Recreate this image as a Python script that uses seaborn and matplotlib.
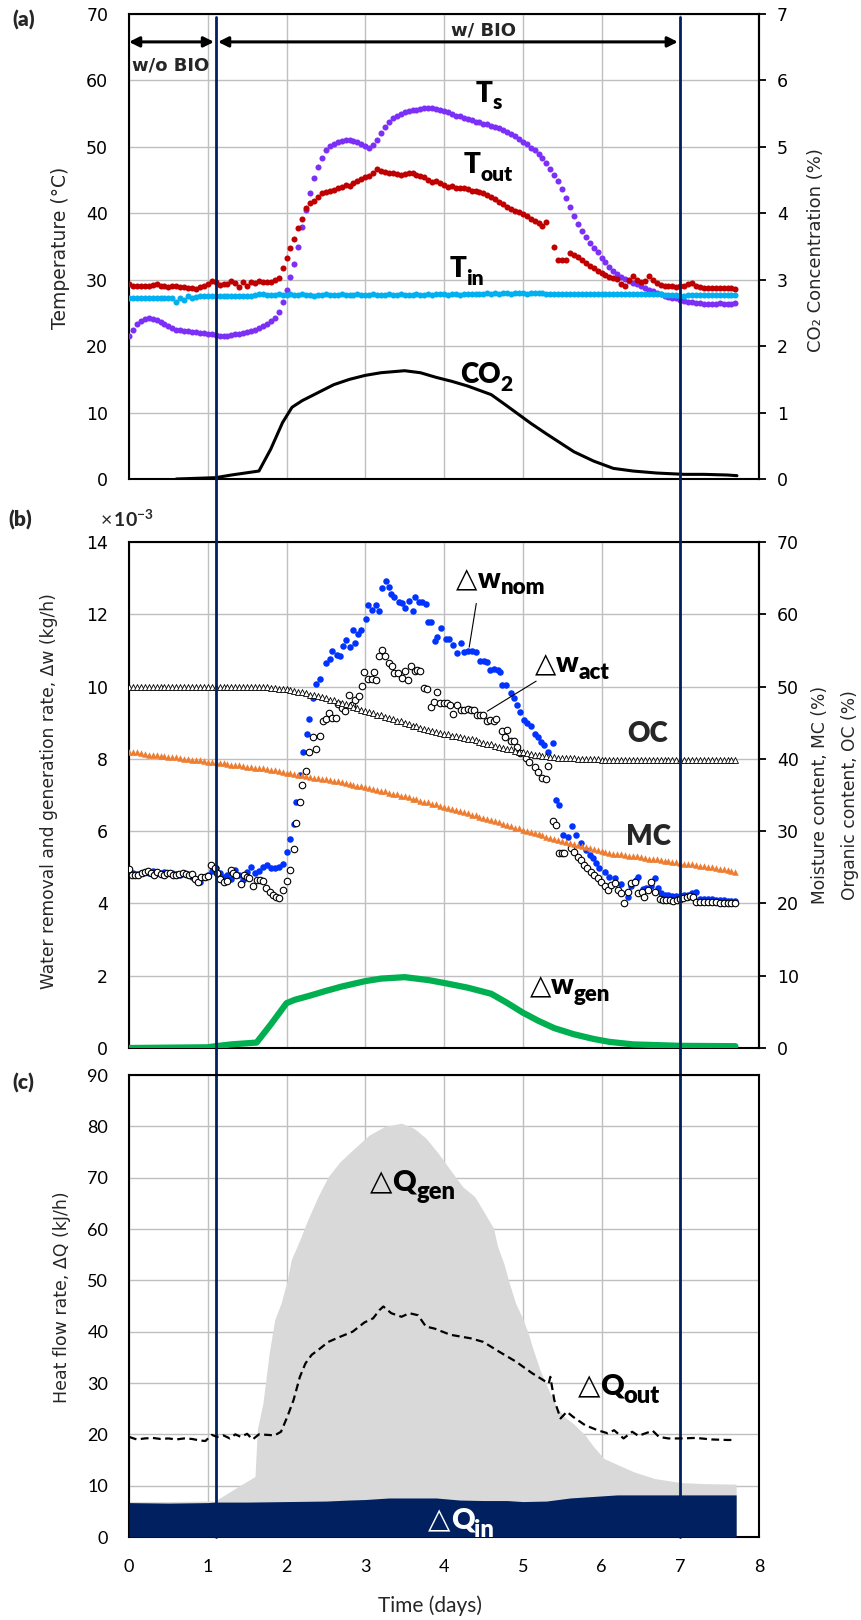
import numpy as np
import matplotlib
matplotlib.use('Agg')
import matplotlib.pyplot as plt
import matplotlib.transforms as mtransforms
from matplotlib import font_manager as fm
from matplotlib.lines import Line2D
import seaborn as sns

sns.set_theme(style='white')
plt.rcParams['font.family'] = ['Lato', 'DejaVu Sans']


def _weights(fam):
    out = set()
    for f in fm.fontManager.ttflist:
        if f.name != fam:
            continue
        w = f.weight
        if isinstance(w, str):
            w = {'bold': 700, 'heavy': 800, 'black': 900, 'extra bold': 800, 'demibold': 600,
                 'semibold': 600}.get(w.lower(), 400)
        out.add(w)
    return out


BOLD = next(f for f in ['Lato', 'Open Sans', 'Noto Sans', 'Roboto', 'Liberation Sans', 'DejaVu Sans']
            if max(_weights(f) or {0}) >= 700)
# heaviest available weight up to 'heavy' for the chart's big labels
_w = sorted(w for w in _weights(BOLD) if 700 <= w <= 900)
HEAVY = _w[-1] if _w else 'bold'
if HEAVY == 900 and 800 in _w:
    HEAVY = 800

plt.rcParams['mathtext.fontset'] = 'custom'
plt.rcParams['mathtext.rm'] = 'Lato'
plt.rcParams['mathtext.bf'] = BOLD + ':weight=bold'
plt.rcParams['mathtext.it'] = 'Lato:italic'
plt.rcParams['mathtext.fallback'] = 'stixsans'

# ---------------- data ----------------
# sampling grid (days) for the dense series: 0.00, 0.05, ... 7.70
t_grid = np.round(np.arange(155) * 0.05, 2)

ts = [21.5, 22.5, 23.3, 23.8, 24.1, 24.2, 24.1, 23.9, 23.6, 23.3, 23.0, 22.7, 22.5, 22.4, 22.3, 22.3, 22.2, 22.1, 22.0, 22.0,
      21.9, 21.8, 21.7, 21.6, 21.6, 21.5, 21.7, 21.8, 21.9, 22.0, 22.2, 22.3, 22.5, 22.8, 23.0, 23.4, 23.8, 24.3, 25.2, 26.6,
      28.4, 30.4, 32.4, 35.0, 37.9, 40.5, 43.0, 45.3, 47.0, 48.3, 49.5, 50.2, 50.5, 50.7, 50.9, 51.0, 51.0, 50.9, 50.8, 50.5,
      50.1, 49.9, 50.3, 51.1, 52.1, 53.0, 53.8, 54.3, 54.7, 55.0, 55.2, 55.4, 55.5, 55.6, 55.7, 55.8, 55.8, 55.8, 55.7, 55.6,
      55.4, 55.2, 54.9, 54.7, 54.6, 54.4, 54.2, 54.0, 53.8, 53.7, 53.5, 53.4, 53.2, 53.0, 52.8, 52.5, 52.3, 52.0, 51.6, 51.2,
      50.8, 50.4, 49.9, 49.5, 48.9, 48.3, 47.6, 46.7, 45.8, 44.9, 43.7, 42.3, 41.0, 39.6, 38.4, 37.3, 36.4, 35.5, 34.8, 34.1,
      33.3, 32.6, 31.9, 31.3, 30.8, 30.4, 30.1, 29.8, 29.5, 29.3, 29.0, 28.7, 28.5, 28.3, 28.0, 27.8, 27.6, 27.4, 27.3, 27.2,
      27.0, 26.8, 26.7, 26.6, 26.5, 26.5, 26.4, 26.4, 26.4, 26.4, 26.5, 26.4, 26.4, 26.4, 26.5]

t_out = [29.3, 29.0, 29.0, 29.1, 29.1, 29.0, 29.2, 29.3, 29.0, 29.1, 28.9, 29.0, 29.0, 28.9, 28.9, 28.7, 28.8, 28.6, 28.9, 29.0,
         29.4, 29.8, 29.6, 29.2, 29.4, 29.3, 29.8, 29.5, 28.9, 29.6, 29.1, 29.7, 29.5, 29.8, 29.6, 29.6, 29.7, 29.9, 30.3, 31.8,
         33.2, 34.8, 36.2, 37.8, 39.2, 40.8, 41.6, 41.9, 42.5, 43.0, 43.2, 43.3, 43.5, 43.8, 44.0, 44.2, 44.1, 44.6, 44.9, 45.2,
         45.4, 45.6, 46.0, 46.6, 46.4, 46.2, 46.0, 46.1, 45.9, 45.8, 45.9, 46.0, 46.0, 45.7, 45.6, 45.4, 45.0, 44.7, 44.8, 44.5,
         44.3, 44.0, 44.1, 43.8, 43.8, 43.8, 43.6, 43.4, 43.4, 43.2, 43.0, 42.8, 42.4, 42.1, 41.7, 41.4, 41.0, 40.7, 40.4, 40.2,
         39.9, 39.6, 39.2, 38.9, 38.5, 38.1, 38.7, np.nan, 34.9, 33.0, 33.0, 33.0, 34.0, 33.7, 33.4, 33.0, 32.5, 32.1, 31.7, 31.3,
         31.0, 30.7, 30.4, 30.3, 30.1, 29.4, 29.0, 29.9, 30.6, 30.0, 29.6, 29.8, 30.6, 29.9, 29.5, 29.2, 29.1, 29.0, 29.0, 28.9,
         29.0, 29.1, 29.4, 29.5, 29.0, 28.9, 28.8, 28.8, 28.8, 28.7, 28.7, 28.7, 28.7, 28.7, 28.6]

t_in = [27.3, 27.3, 27.2, 27.3, 27.3, 27.2, 27.3, 27.3, 27.2, 27.3, 27.2, 27.3, 26.6, 27.3, 27.0, 27.5, 27.3, 27.4, 27.5, 27.6,
        27.5, 27.6, 27.5, 27.6, 27.6, 27.5, 27.6, 27.6, 27.5, 27.6, 27.6, 27.6, 27.7, 27.8, 27.8, 27.7, 27.7, 27.7, 27.8, 27.7,
        27.7, 27.8, 27.7, 27.7, 27.8, 27.7, 27.7, 27.6, 27.7, 27.7, 27.8, 27.7, 27.7, 27.7, 27.8, 27.7, 27.7, 27.7, 27.8, 27.7,
        27.7, 27.7, 27.8, 27.7, 27.7, 27.7, 27.8, 27.7, 27.7, 27.8, 27.7, 27.7, 27.7, 27.8, 27.7, 27.7, 27.8, 27.7, 27.8, 27.8,
        27.8, 27.7, 27.8, 27.8, 27.7, 27.8, 27.8, 27.9, 27.8, 27.9, 27.9, 28.0, 27.9, 28.0, 27.9, 28.0, 28.0, 27.9, 28.0, 28.0,
        28.0, 27.9, 28.0, 28.0, 28.0, 28.0, 27.9, 27.9, 27.8, 27.8, 27.9, 27.8, 27.8, 27.9, 27.8, 27.8, 27.8, 27.9, 27.8, 27.8,
        27.8, 27.9, 27.8, 27.8, 27.8, 27.8, 27.8, 27.8, 27.8, 27.8, 27.8, 27.9, 27.8, 27.8, 27.8, 27.8, 27.7, 27.7, 27.7, 27.7,
        27.6, 27.6, 27.7, 27.7, 27.7, 27.7, 27.7, 27.7, 27.7, 27.7, 27.7, 27.7, 27.7, 27.7, 27.7]

co2_day = [0.6, 1.1, 1.3, 1.65, 1.8, 1.95, 2.07, 2.2, 2.4, 2.6, 2.8, 3.0, 3.2, 3.5, 3.7, 3.9, 4.1, 4.3, 4.6,
           4.8, 5.1, 5.3, 5.65, 5.9, 6.15, 6.4, 6.7, 7.05, 7.3, 7.6, 7.72]
co2_pct = [0.0, 0.02, 0.06, 0.12, 0.45, 0.85, 1.08, 1.18, 1.3, 1.42, 1.5, 1.56, 1.6, 1.63, 1.6, 1.53, 1.47, 1.4, 1.27,
           1.1, 0.84, 0.68, 0.41, 0.27, 0.16, 0.12, 0.09, 0.07, 0.07, 0.06, 0.05]

wnom_day = [0.00, 0.05, 0.10, 0.15, 0.20, 0.25, 0.30, 0.35, 0.40, 0.45, 0.50, 0.55, 0.60, 0.65, 0.70, 0.75, 0.80, 0.85,
            0.90, 0.95, 1.00, 1.05, 1.10, 1.15, 1.20, 1.25, 1.30, 1.35, 1.40, 1.45, 1.50, 1.55, 1.60, 1.65, 1.70, 1.75,
            1.80, 1.85, 1.90, 1.95, 2.00, 2.04, 2.09, 2.12, 2.17, 2.21, 2.26, 2.29, 2.34, 2.38, 2.42, 2.50, 2.55, 2.58,
            2.64, 2.68, 2.72, 2.75, 2.80, 2.85, 2.87, 2.91, 2.95, 3.01, 3.04, 3.09, 3.14, 3.17, 3.21, 3.26, 3.30, 3.33,
            3.37, 3.43, 3.47, 3.50, 3.55, 3.60, 3.63, 3.68, 3.72, 3.77, 3.80, 3.83, 3.89, 3.91, 3.96, 4.02, 4.06, 4.12,
            4.17, 4.21, 4.25, 4.30, 4.35, 4.40, 4.46, 4.51, 4.55, 4.59, 4.64, 4.68, 4.71, 4.74, 4.79, 4.85, 4.89, 4.93,
            4.97, 5.02, 5.06, 5.10, 5.15, 5.19, 5.23, 5.27, 5.32, 5.39, 5.42, 5.46, 5.51, 5.57, 5.63, 5.68, 5.74, 5.80,
            5.85, 5.89, 5.93, 5.97, 6.04, 6.10, 6.17, 6.25, 6.34, 6.38, 6.44, 6.46, 6.53, 6.57, 6.63, 6.68, 6.72, 6.76,
            6.81, 6.85, 6.90, 6.95, 7.00, 7.05, 7.10, 7.15, 7.20, 7.25, 7.30, 7.35, 7.40, 7.45, 7.50, 7.55, 7.60, 7.65, 7.70]
wnom_val = [4.93, 4.85, 4.82, 4.85, 4.88, 4.85, 4.90, 4.84, 4.83, 4.86, 4.85, 4.84, 4.82, 4.80, 4.84, 4.78, 4.72, 4.65,
            4.60, 4.72, 4.80, 4.90, 4.97, 4.85, 4.72, 4.78, 4.67, 4.92, 4.80, 4.66, 4.88, 5.00, 4.83, 4.90, 5.00, 5.06,
            4.98, 4.97, 5.02, 5.09, 5.41, 5.78, 6.19, 6.80, 7.55, 8.18, 8.70, 9.09, 9.67, 10.08, 10.20, 10.64, 10.75, 10.99,
            10.87, 10.85, 11.11, 11.30, 11.10, 11.56, 11.20, 11.45, 11.56, 11.87, 12.27, 12.13, 12.27, 12.10, 12.73, 12.92, 12.75, 12.57,
            12.48, 12.33, 12.32, 12.17, 12.36, 12.08, 12.48, 12.33, 12.33, 12.28, 11.80, 11.78, 11.26, 11.37, 11.63, 11.31, 11.31, 11.14,
            10.94, 11.20, 10.96, 10.98, 10.98, 10.96, 10.70, 10.72, 10.68, 10.47, 10.50, 10.45, 10.39, 10.03, 10.05, 9.82, 9.67, 9.48,
            9.30, 9.07, 8.98, 8.90, 8.70, 8.61, 8.47, 8.38, 8.20, 8.44, 6.86, 6.71, 5.89, 5.85, 6.15, 5.89, 5.66, 5.48,
            5.34, 5.25, 5.11, 4.97, 4.88, 4.72, 4.71, 4.53, 4.17, 4.47, 4.65, 4.72, 4.39, 4.42, 4.47, 4.69, 4.42, 4.30,
            4.24, 4.22, 4.20, 4.21, 4.20, 4.22, 4.24, 4.28, 4.31, 4.12, 4.12, 4.12, 4.11, 4.10, 4.10, 4.09, 4.08, 4.07, 4.07]

wact_day = [0.00, 0.04, 0.08, 0.12, 0.16, 0.20, 0.24, 0.28, 0.32, 0.36, 0.40, 0.44, 0.48, 0.52, 0.56, 0.60, 0.64, 0.68,
            0.72, 0.76, 0.80, 0.84, 0.88, 0.92, 0.96, 1.00, 1.04, 1.09, 1.12, 1.16, 1.21, 1.25, 1.29, 1.32, 1.36, 1.42,
            1.46, 1.50, 1.53, 1.57, 1.62, 1.66, 1.70, 1.74, 1.79, 1.83, 1.87, 1.91, 1.96, 2.00, 2.04, 2.09, 2.12, 2.17,
            2.20, 2.25, 2.29, 2.34, 2.37, 2.42, 2.46, 2.50, 2.54, 2.58, 2.63, 2.66, 2.70, 2.74, 2.79, 2.83, 2.87, 2.92,
            2.96, 2.99, 3.04, 3.09, 3.11, 3.14, 3.17, 3.21, 3.25, 3.30, 3.34, 3.37, 3.42, 3.47, 3.50, 3.54, 3.58, 3.63,
            3.66, 3.70, 3.74, 3.79, 3.83, 3.87, 3.91, 3.95, 4.00, 4.04, 4.08, 4.12, 4.17, 4.21, 4.25, 4.30, 4.34, 4.38,
            4.42, 4.46, 4.49, 4.55, 4.59, 4.63, 4.66, 4.74, 4.78, 4.80, 4.85, 4.89, 4.93, 4.97, 5.04, 5.08, 5.15, 5.19,
            5.25, 5.29, 5.32, 5.38, 5.42, 5.46, 5.50, 5.53, 5.61, 5.65, 5.70, 5.74, 5.78, 5.82, 5.87, 5.91, 5.95, 5.99,
            6.04, 6.08, 6.12, 6.17, 6.21, 6.25, 6.29, 6.34, 6.38, 6.42, 6.46, 6.51, 6.54, 6.59, 6.63, 6.68, 6.74, 6.78,
            6.82, 6.87, 6.91, 6.96, 7.00, 7.04, 7.08, 7.12, 7.16, 7.20, 7.25, 7.30, 7.35, 7.40, 7.45, 7.50, 7.55, 7.60, 7.65, 7.70]
wact_val = [4.95, 4.78, 4.80, 4.78, 4.83, 4.86, 4.90, 4.83, 4.80, 4.87, 4.82, 4.80, 4.83, 4.84, 4.80, 4.80, 4.82, 4.83,
            4.82, 4.80, 4.81, 4.67, 4.58, 4.72, 4.74, 4.76, 5.06, 4.97, 4.85, 4.67, 4.58, 4.62, 4.93, 4.85, 4.78, 4.54,
            4.79, 4.72, 4.70, 4.49, 4.65, 4.65, 4.63, 4.42, 4.33, 4.22, 4.17, 4.15, 4.37, 4.63, 4.93, 5.51, 6.23, 6.81,
            7.29, 7.67, 8.20, 8.60, 8.27, 8.62, 9.05, 9.10, 9.28, 9.14, 9.14, 9.53, 9.40, 9.33, 9.76, 9.50, 9.62, 9.74,
            10.02, 10.40, 10.22, 10.22, 10.39, 10.17, 10.84, 11.00, 10.84, 10.66, 10.56, 10.38, 10.38, 10.24, 10.42, 10.17, 10.57, 10.42,
            10.45, 10.42, 9.96, 9.92, 9.44, 9.56, 9.85, 9.55, 9.55, 9.55, 9.50, 9.25, 9.50, 9.36, 9.36, 9.37, 9.35, 9.36,
            9.20, 9.22, 9.20, 9.05, 9.07, 9.05, 9.10, 8.77, 8.60, 8.80, 8.50, 8.50, 8.33, 8.15, 8.01, 7.92, 7.78, 7.64,
            7.48, 7.44, 7.80, 6.28, 6.17, 5.39, 5.39, 5.39, 5.52, 5.43, 5.29, 5.20, 5.06, 4.97, 4.88, 4.79, 4.70, 4.60,
            4.47, 4.37, 4.51, 4.56, 4.37, 4.28, 4.02, 4.33, 4.56, 4.60, 4.28, 4.33, 4.17, 4.37, 4.60, 4.33, 4.12, 4.10,
            4.10, 4.10, 4.08, 4.10, 4.12, 4.15, 4.19, 4.20, 4.19, 4.05, 4.04, 4.03, 4.04, 4.03, 4.03, 4.02, 4.02, 4.00, 4.00, 4.02]

oc_pct = [50.0] * 20 + \
    [50.0] * 14 + [49.95, 49.9, 49.85, 49.8, 49.7, 49.65] + \
    [49.6, 49.5, 49.4, 49.3, 49.2, 49.1, 48.9, 48.8, 48.7, 48.5, 48.4, 48.2, 48.1, 47.9, 47.7, 47.6, 47.4, 47.2, 47.0, 46.8] + \
    [46.6, 46.5, 46.3, 46.1, 46.0, 45.8, 45.6, 45.5, 45.3, 45.2, 45.0, 44.8, 44.6, 44.5, 44.3, 44.1, 44.0, 43.8, 43.7, 43.6] + \
    [43.5, 43.4, 43.2, 43.1, 43.0, 42.9, 42.8, 42.7, 42.6, 42.4, 42.2, 42.1, 42.0, 41.8, 41.7, 41.5, 41.4, 41.3, 41.1, 41.0] + \
    [40.9, 40.8, 40.7, 40.6, 40.5, 40.4, 40.35, 40.3, 40.2, 40.15, 40.1, 40.1, 40.05, 40.05, 40.0, 40.0, 40.0, 40.0, 40.0, 40.0] + \
    [39.9] * 20 + [39.9] * 15

mc_pct = [41.0, 40.9, 40.9, 40.8, 40.7, 40.6, 40.6, 40.5, 40.4, 40.4, 40.3, 40.2, 40.2, 40.1, 40.0, 40.0, 39.9, 39.8, 39.8, 39.7,
          39.6, 39.6, 39.5, 39.4, 39.4, 39.3, 39.2, 39.2, 39.1, 39.0, 38.9, 38.9, 38.8, 38.7, 38.7, 38.6, 38.5, 38.4, 38.3, 38.2,
          38.1, 38.0, 37.9, 37.8, 37.7, 37.6, 37.5, 37.4, 37.3, 37.2, 37.2, 37.1, 37.0, 36.9, 36.8, 36.7, 36.5, 36.4, 36.3, 36.2,
          36.1, 36.0, 35.8, 35.7, 35.6, 35.5, 35.3, 35.2, 35.1, 34.9, 34.8, 34.7, 34.5, 34.4, 34.2, 34.1, 34.0, 33.8, 33.7, 33.5,
          33.4, 33.2, 33.1, 32.9, 32.8, 32.6, 32.5, 32.3, 32.2, 32.0, 31.8, 31.7, 31.5, 31.4, 31.2, 31.0, 30.9, 30.7, 30.5, 30.4,
          30.2, 30.0, 29.9, 29.7, 29.6, 29.4, 29.2, 29.0, 28.9, 28.8, 28.6, 28.5, 28.4, 28.2, 28.1, 28.0, 27.8, 27.7, 27.5, 27.4,
          27.2, 27.1, 27.0, 26.9, 26.9, 26.8, 26.7, 26.6, 26.5, 26.5, 26.4, 26.3, 26.2, 26.2, 26.1, 26.0, 25.9, 25.9, 25.8, 25.7,
          25.6, 25.5, 25.5, 25.4, 25.3, 25.2, 25.2, 25.1, 25.0, 24.9, 24.8, 24.7, 24.6, 24.5, 24.4]

wgen_day = [0.0, 1.0, 1.1, 1.3, 1.62, 1.8, 2.0, 2.1, 2.3, 2.5, 2.7, 3.0, 3.2, 3.5, 3.8, 4.0, 4.3, 4.6, 4.8, 5.0,
            5.2, 5.4, 5.65, 5.9, 6.1, 6.4, 7.0, 7.7]
wgen_val = [0.0, 0.02, 0.05, 0.1, 0.15, 0.65, 1.24, 1.33, 1.45, 1.58, 1.7, 1.85, 1.92, 1.96, 1.88, 1.8, 1.67, 1.5, 1.25, 0.98,
            0.75, 0.55, 0.38, 0.25, 0.17, 0.1, 0.06, 0.05]

qgen_day = [0.0, 0.5, 1.0, 1.09, 1.3, 1.6, 1.63, 1.7, 1.78, 1.85, 1.93, 2.01, 2.06, 2.17, 2.27, 2.4, 2.53, 2.68, 2.84, 3.05,
            3.25, 3.46, 3.62, 3.77, 3.93, 4.08, 4.24, 4.39, 4.52, 4.63, 4.68, 4.76, 4.83, 4.91, 4.99, 5.07, 5.12, 5.22, 5.33, 5.43,
            5.53, 5.64, 5.79, 5.9, 6.03, 6.16, 6.41, 6.67, 7.01, 7.3, 7.71]
qgen_val = [6.9, 6.9, 7.0, 7.0, 9.0, 11.8, 21.0, 26.0, 35.8, 42.3, 45.5, 50.0, 54.0, 57.9, 61.8, 66.3, 70.2, 73.1, 75.4, 78.3,
            80.0, 80.6, 79.6, 77.7, 74.7, 71.5, 68.2, 66.3, 63.0, 60.1, 56.6, 53.3, 49.4, 45.5, 42.9, 39.7, 37.1, 32.5, 28.6, 25.4,
            23.4, 22.1, 19.9, 17.6, 15.3, 14.4, 12.7, 11.4, 10.6, 10.4, 10.3]

qin_day = [0.0, 0.5, 1.0, 1.1, 1.5, 2.0, 2.5, 2.8, 3.0, 3.3, 3.6, 3.9, 4.2, 4.5, 4.8, 5.0, 5.3, 5.6, 5.9, 6.2,
           6.6, 7.0, 7.4, 7.71]
qin_val = [6.7, 6.6, 6.7, 6.8, 6.8, 6.9, 7.0, 7.2, 7.3, 7.6, 7.6, 7.6, 7.2, 7.1, 7.1, 6.9, 7.0, 7.6, 7.9, 8.2,
           8.2, 8.2, 8.2, 8.2]

qout_day = [0.0, 0.1, 0.2, 0.3, 0.4, 0.5, 0.6, 0.7, 0.8, 0.9, 0.97, 1.05, 1.12, 1.2, 1.28, 1.35, 1.42, 1.5, 1.57, 1.65,
            1.75, 1.85, 1.93, 2.01, 2.09, 2.17, 2.24, 2.32, 2.4, 2.53, 2.68, 2.84, 2.99, 3.1, 3.18, 3.23, 3.33, 3.46, 3.56, 3.67,
            3.77, 3.88, 4.08, 4.34, 4.5, 4.7, 4.91, 5.12, 5.33, 5.35, 5.4, 5.48, 5.56, 5.64, 5.79, 5.95, 6.08, 6.16, 6.28, 6.39,
            6.47, 6.54, 6.65, 6.73, 6.85, 7.0, 7.2, 7.4, 7.6, 7.7]
qout_val = [19.5, 19.0, 19.2, 19.3, 19.1, 19.2, 19.0, 19.2, 19.1, 18.8, 18.7, 19.9, 19.5, 19.8, 19.2, 20.0, 19.5, 20.1, 19.0, 20.0,
            19.9, 19.8, 20.5, 23.4, 26.7, 31.2, 33.8, 35.5, 36.4, 38.0, 39.0, 40.0, 41.8, 42.6, 44.2, 44.9, 43.6, 42.9, 43.6, 43.2,
            41.0, 40.6, 39.4, 38.7, 38.0, 36.1, 34.2, 31.9, 29.9, 31.2, 26.7, 23.1, 24.4, 23.4, 21.8, 20.8, 20.2, 20.8, 19.2, 20.5,
            19.7, 20.1, 20.7, 19.5, 19.2, 19.2, 19.3, 19.0, 18.9, 18.9]

bio_switch = [1.1, 7.0]

# ---------------- figure ----------------
W, H = 861, 1620
fig = plt.figure(figsize=(W / 100, H / 100), dpi=100)
L, AW = 129 / W, 630 / W
ax_a = fig.add_axes([L, 1 - 479 / H, AW, 465 / H])
ax_a2 = ax_a.twinx()
ax_b = fig.add_axes([L, 1 - 1048 / H, AW, 506 / H])
ax_b2 = ax_b.twinx()
ax_c = fig.add_axes([L, 1 - 1537 / H, AW, 462 / H])

GRID = '#BFBFBF'
TICKFONT = 'DejaVu Sans'


def style_main(ax, ymax, ystep, xlabels=False, tickfont=TICKFONT, tsize=12.5):
    ax.set_xlim(0, 8)
    ax.set_ylim(0, ymax)
    ax.set_xticks(range(9))
    ax.set_yticks(np.arange(0, ymax + 0.001, ystep))
    ax.grid(True, color=GRID, lw=1.0)
    ax.set_axisbelow(True)
    for s in ax.spines.values():
        s.set_visible(True)
        s.set_color('black')
        s.set_linewidth(1.5)
    ax.tick_params(axis='y', left=False, length=0, pad=15, labelsize=tsize, labelfontfamily=tickfont,
                   labelcolor='black')
    if xlabels:
        ax.tick_params(axis='x', bottom=False, length=0, pad=16, labelsize=tsize, labelfontfamily=tickfont,
                       labelcolor='black')
    else:
        ax.tick_params(axis='x', bottom=False, length=0, labelbottom=False)
    ax.set_xlabel('')
    ax.set_ylabel('')


def style_twin(ax, ymax, ystep):
    ax.set_ylim(0, ymax)
    ax.set_yticks(np.arange(0, ymax + 0.001, ystep))
    ax.grid(False)
    for k, s in ax.spines.items():
        s.set_visible(k == 'right')
    ax.spines['right'].set_color('black')
    ax.spines['right'].set_linewidth(1.5)
    ax.tick_params(axis='y', right=True, direction='out', length=5, width=1.3, color='black',
                   pad=8, labelsize=12.5, labelfontfamily=TICKFONT, labelcolor='black')
    ax.set_ylabel('')
    ax.set_xlabel('')


renderer = fig.canvas.get_renderer()


def composite(ax, x, y, parts, color='black', zorder=6):
    """Draw a label made of pieces (text, size, weight, family, dy_pt) centred at data x, baseline y."""
    widths = []
    for s, size, weight, family, dy in parts:
        t = fig.text(0, 0, s, fontsize=size, fontweight=weight, family=family)
        widths.append(t.get_window_extent(renderer=renderer).width * 72 / fig.dpi)
        t.remove()
    x0 = -sum(widths) / 2
    for (s, size, weight, family, dy), w in zip(parts, widths):
        ax.annotate(s, xy=(x, y), xycoords='data', xytext=(x0, dy), textcoords='offset points',
                    ha='left', va='baseline', fontsize=size, fontweight=weight, family=family,
                    color=color, zorder=zorder, annotation_clip=False)
        x0 += w


def sub(main, subs, size=20, ssize=15, dy=-5.5, tri=False):
    parts = []
    if tri:
        parts.append(('\u25B3', size, 'normal', 'DejaVu Sans', 0))
    parts.append((main, size, HEAVY, BOLD, 0))
    parts.append((subs, ssize, HEAVY, BOLD, dy))
    return parts


# ---------- panel (a) ----------
sns.scatterplot(x=t_grid, y=ts, ax=ax_a, color='#7B2FF7', s=19, linewidth=0, zorder=3)
sns.scatterplot(x=t_grid, y=t_out, ax=ax_a, color='#C00000', s=19, linewidth=0, zorder=3)
sns.scatterplot(x=t_grid, y=t_in, ax=ax_a, color='#00B0F0', s=19, linewidth=0, zorder=3)
sns.lineplot(x=co2_day, y=co2_pct, ax=ax_a2, color='black', lw=2.2, sort=False, estimator=None)
style_main(ax_a, 70, 10)
style_twin(ax_a2, 7, 1)

ax_a.annotate('', xy=(0.0, 65.8), xytext=(1.08, 65.8),
              arrowprops=dict(arrowstyle='<|-|>', color='black', lw=2.2, mutation_scale=15,
                              shrinkA=0, shrinkB=0))
ax_a.annotate('', xy=(1.13, 65.8), xytext=(6.97, 65.8),
              arrowprops=dict(arrowstyle='<|-|>', color='black', lw=2.2, mutation_scale=15,
                              shrinkA=0, shrinkB=0))
ax_a.text(0.04, 62.3, 'w/o BIO', ha='left', va='center', fontsize=13, fontweight='bold', family='DejaVu Sans')
ax_a.text(4.5, 67.5, 'w/ BIO', ha='center', va='center', fontsize=13, fontweight='bold', family='DejaVu Sans')
composite(ax_a, 4.57, 56.8, sub('T', 's'))
composite(ax_a, 4.56, 46.0, sub('T', 'out'))
composite(ax_a, 4.29, 30.4, sub('T', 'in'))
composite(ax_a, 4.54, 14.4, sub('CO', '2'))

# ---------- panel (b) ----------
sns.scatterplot(x=wnom_day, y=wnom_val, ax=ax_b, color='#0033FF', s=22, linewidth=0, zorder=3)
sns.scatterplot(x=wact_day, y=wact_val, ax=ax_b, color='white', edgecolor='black', s=22, linewidth=0.8, zorder=4)
sns.lineplot(x=wgen_day, y=wgen_val, ax=ax_b, color='#00B050', lw=4.5, sort=False, estimator=None, zorder=3)
sns.scatterplot(x=t_grid, y=mc_pct, ax=ax_b2, color='#ED7D31', marker='^', s=22, linewidth=0, zorder=3)
sns.scatterplot(x=t_grid, y=oc_pct, ax=ax_b2, color='white', edgecolor='black', marker='^', s=18,
                linewidth=0.6, zorder=3)
style_main(ax_b, 14, 2)
style_twin(ax_b2, 70, 10)

composite(ax_b, 4.72, 12.74, sub('w', 'nom', size=20, ssize=16, dy=-5, tri=True))
composite(ax_b, 5.63, 10.40, sub('w', 'act', size=20, ssize=16, dy=-5, tri=True))
composite(ax_b, 5.60, 1.49, sub('w', 'gen', size=20, ssize=16, dy=-5, tri=True))
ax_b.text(6.58, 8.7, 'OC', ha='center', va='center', fontsize=20, fontweight=HEAVY, family=BOLD)
ax_b.text(6.6, 5.83, 'MC', ha='center', va='center', fontsize=20, fontweight=HEAVY, family=BOLD)
ax_b.annotate('', xy=(4.32, 11.09), xytext=(4.41, 12.3),
              arrowprops=dict(arrowstyle='-', color='black', lw=0.8, shrinkA=0, shrinkB=0))
ax_b.annotate('', xy=(4.55, 9.32), xytext=(5.17, 10.15),
              arrowprops=dict(arrowstyle='-', color='black', lw=0.8, shrinkA=0, shrinkB=0))

# ---------- panel (c) ----------
ax_c.fill_between(qgen_day, qgen_val, 0, color='#D9D9D9', lw=0, zorder=1)
ax_c.fill_between(qin_day, qin_val, 0, color='#002060', lw=0, zorder=3)
sns.lineplot(x=qout_day, y=qout_val, ax=ax_c, color='black', lw=1.6, linestyle=(0, (3.5, 2)),
             sort=False, estimator=None, zorder=4)
style_main(ax_c, 90, 10, xlabels=True, tickfont='Lato', tsize=13)
composite(ax_c, 3.6, 67.5, sub('Q', 'gen', size=21, ssize=17, dy=-6, tri=True))
composite(ax_c, 6.22, 27.7, sub('Q', 'out', size=21, ssize=17, dy=-6, tri=True))
composite(ax_c, 4.22, 1.6, sub('Q', 'in', size=21, ssize=17, dy=-6, tri=True), color='white')

# vertical switch lines spanning all panels
trans = mtransforms.blended_transform_factory(ax_c.transData, fig.transFigure)
for xv in bio_switch:
    ax_c.add_line(Line2D([xv, xv], [1 - 17 / H, 1 - 1537 / H], transform=trans, color='#002060',
                         lw=2.0, zorder=2, clip_on=False))

# ---------- labels ----------
def ftext(x, y, s, **kw):
    fig.text(x / W, 1 - y / H, s, **kw)

ftext(60, 248, 'Temperature (°C)', rotation=90, ha='center', va='center', fontsize=13.5, family='DejaVu Sans')
ftext(816, 250, 'CO\u2082 Concentration (%)', rotation=90, ha='center', va='center', fontsize=13,
      family='DejaVu Sans')
ftext(49, 791, 'Water removal and generation rate, Δw (kg/h)', rotation=90, ha='center', va='center',
      fontsize=12.3, family='DejaVu Sans')
ftext(835, 795, 'Moisture content, MC (%)\nOrganic content, OC (%)', rotation=90, ha='center',
      va='center', fontsize=12.3, family='DejaVu Sans', linespacing=1.9, multialignment='center')
ftext(62, 1297, 'Heat flow rate, ΔQ (kJ/h)', rotation=90, ha='center', va='center', fontsize=12.5,
      family='DejaVu Sans')
ftext(430, 1606, 'Time (days)', ha='center', va='center', fontsize=15)
ftext(12, 20, '(a)', ha='left', va='center', fontsize=15, fontweight=HEAVY, family=BOLD)
ftext(8, 520, '(b)', ha='left', va='center', fontsize=15, fontweight=HEAVY, family=BOLD)
ftext(12, 1083, '(c)', ha='left', va='center', fontsize=15, fontweight=HEAVY, family=BOLD)
ftext(100, 519, r'$\times\,\mathbf{10^{-3}}$', ha='left', va='center', fontsize=14)

fig.savefig('out.png', dpi=100)
